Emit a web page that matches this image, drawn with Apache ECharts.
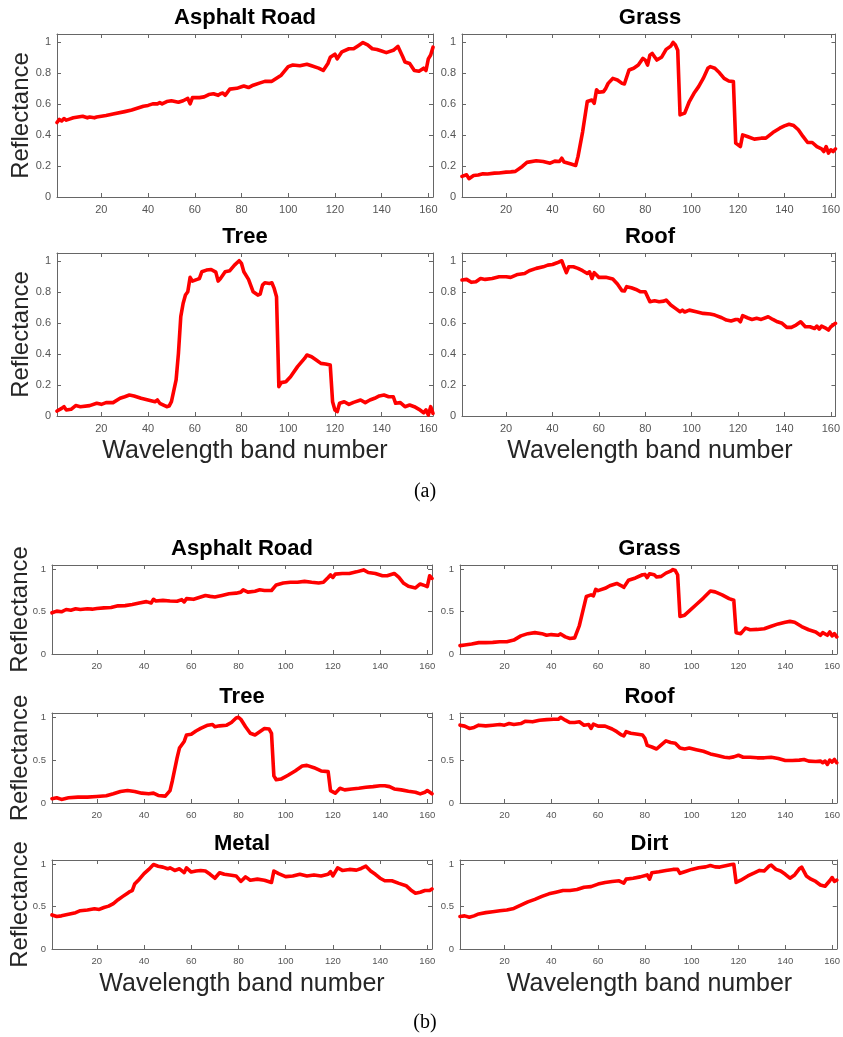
<!DOCTYPE html>
<html>
<head>
<meta charset="utf-8">
<script src="https://cdn.jsdelivr.net/npm/echarts@6/dist/echarts.min.js"></script>
<style>
  html, body { margin: 0; padding: 0; background: #fff; }
  #chart { width: 843px; height: 1037px; }
</style>
</head>
<body>
<div id="chart"></div>
<script>
// band number vs reflectance
const roadA = [[1,.48],[2,.5],[3,.49],[4,.505],[5,.495],[6,.5],[8,.51],[10,.515],[12,.52],[14,.51],[15,.515],[17,.51],[18,.515],[20,.52],[22,.525],[25,.535],[30,.55],[33,.56],[35,.57],[38,.585],[40,.59],[42,.6],[44,.6],[45,.608],[46,.6],[48,.615],[50,.62],[53,.61],[55,.62],[57,.635],[58,.6],[59,.64],[62,.64],[64,.645],[66,.66],[68,.665],[70,.655],[71,.665],[72,.67],[73,.655],[75,.695],[78,.7],[80,.71],[81,.715],[83,.705],[85,.72],[88,.735],[90,.745],[93,.745],[95,.765],[97,.785],[100,.84],[102,.85],[105,.845],[108,.855],[110,.845],[113,.83],[115,.815],[117,.86],[118,.9],[120,.92],[121,.89],[123,.935],[126,.955],[128,.955],[130,.975],[132,.995],[134,.98],[136,.955],[138,.95],[140,.94],[142,.93],[145,.945],[147,.97],[149,.905],[150,.87],[152,.86],[154,.815],[156,.81],[158,.83],[159,.815],[160,.89],[161,.915],[162,.965]];
const grassA = [[1,.133],[3,.143],[4,.118],[6,.139],[8,.142],[10,.15],[12,.148],[15,.154],[17,.155],[20,.16],[22,.162],[24,.165],[27,.197],[29,.223],[33,.233],[36,.229],[39,.218],[41,.231],[43,.229],[44,.25],[45,.225],[48,.212],[50,.203],[51,.26],[53,.42],[55,.615],[57,.625],[58,.604],[59,.69],[60,.675],[62,.679],[63,.7],[64,.732],[66,.764],[68,.754],[70,.732],[71,.728],[73,.818],[75,.829],[77,.85],[79,.893],[80,.882],[81,.85],[82,.914],[83,.925],[85,.882],[87,.9],[89,.951],[91,.972],[92,.996],[93,.979],[94,.946],[95,.529],[97,.54],[99,.615],[101,.668],[103,.711],[105,.764],[107,.829],[108,.84],[110,.829],[112,.8],[114,.764],[116,.747],[118,.743],[119,.347],[121,.325],[122,.4],[124,.39],[127,.373],[130,.379],[132,.379],[135,.415],[138,.443],[140,.458],[142,.469],[144,.46],[146,.433],[148,.39],[150,.351],[152,.351],[154,.325],[156,.31],[157,.293],[158,.325],[159,.283],[160,.304],[161,.293],[162,.31]];
const treeA = [[1,.032],[3,.049],[4,.06],[5,.039],[7,.043],[9,.067],[11,.06],[15,.067],[18,.082],[20,.075],[22,.086],[25,.086],[28,.114],[30,.124],[32,.135],[34,.129],[37,.114],[40,.103],[43,.092],[44,.103],[45,.082],[48,.06],[49,.064],[50,.092],[52,.232],[53,.403],[54,.64],[55,.725],[56,.779],[57,.8],[58,.893],[59,.869],[61,.88],[62,.886],[63,.929],[65,.94],[67,.944],[69,.927],[70,.869],[71,.886],[73,.929],[75,.936],[77,.972],[79,1.0],[80,.983],[81,.929],[83,.88],[85,.8],[87,.779],[88,.785],[89,.843],[90,.858],[92,.854],[93,.858],[94,.822],[95,.768],[96,.189],[97,.215],[99,.221],[101,.253],[104,.318],[107,.371],[108,.393],[110,.382],[112,.361],[114,.339],[116,.335],[118,.328],[119,.092],[120,.039],[121,.028],[122,.082],[124,.092],[126,.075],[128,.088],[131,.103],[133,.086],[135,.103],[137,.114],[139,.129],[141,.135],[143,.124],[145,.124],[146,.082],[148,.086],[150,.06],[152,.071],[154,.06],[156,.043],[158,.021],[159,.039],[160,.006],[161,.06],[162,.017]];
const roofA = [[1,.876],[3,.88],[5,.861],[7,.865],[9,.886],[11,.88],[14,.886],[17,.897],[20,.897],[22,.893],[25,.912],[28,.918],[30,.936],[33,.951],[36,.961],[38,.972],[40,.976],[42,.987],[44,1.0],[45,.961],[46,.923],[47,.961],[49,.961],[51,.951],[53,.936],[55,.918],[56,.929],[57,.886],[58,.923],[59,.908],[60,.893],[63,.893],[66,.882],[68,.85],[70,.807],[71,.805],[72,.833],[74,.826],[76,.815],[78,.8],[80,.8],[82,.736],[84,.742],[86,.736],[88,.74],[89,.747],[91,.715],[93,.693],[95,.672],[96,.682],[97,.67],[99,.682],[102,.672],[105,.661],[108,.657],[110,.65],[113,.633],[115,.618],[117,.612],[119,.622],[120,.622],[121,.607],[122,.646],[124,.633],[126,.622],[128,.629],[130,.622],[133,.639],[135,.622],[137,.607],[139,.597],[141,.571],[143,.571],[145,.586],[147,.607],[149,.575],[151,.575],[153,.564],[154,.579],[155,.56],[156,.579],[158,.564],[159,.554],[160,.575],[162,.597]];

const roadB = [[1,.486],[3,.506],[5,.498],[7,.525],[9,.517],[11,.533],[13,.525],[16,.533],[18,.529],[20,.537],[23,.544],[26,.548],[29,.568],[32,.571],[35,.583],[38,.602],[41,.618],[43,.602],[44,.645],[45,.625],[48,.633],[51,.625],[54,.622],[56,.641],[57,.614],[58,.653],[61,.645],[64,.672],[66,.691],[68,.68],[70,.672],[73,.691],[76,.71],[79,.718],[81,.73],[82,.757],[84,.73],[87,.741],[89,.757],[91,.749],[94,.749],[96,.815],[99,.838],[102,.846],[105,.846],[108,.857],[111,.846],[114,.838],[116,.846],[118,.903],[119,.934],[120,.903],[121,.942],[124,.95],[127,.95],[130,.969],[133,.992],[135,.961],[138,.95],[141,.923],[143,.923],[146,.95],[148,.903],[150,.834],[152,.799],[155,.78],[157,.826],[159,.807],[160,.795],[161,.923],[162,.892]];
const grassB = [[1,.099],[3,.107],[6,.118],[9,.134],[12,.134],[15,.137],[18,.145],[21,.145],[24,.164],[27,.214],[30,.24],[33,.252],[36,.24],[38,.221],[40,.229],[43,.221],[44,.237],[46,.202],[48,.183],[50,.19],[52,.336],[53,.45],[55,.679],[57,.698],[58,.687],[59,.763],[60,.748],[63,.775],[65,.805],[68,.832],[70,.805],[71,.786],[73,.87],[76,.897],[79,.935],[80,.939],[81,.901],[82,.947],[84,.935],[85,.908],[87,.916],[89,.954],[91,.977],[92,.996],[93,.985],[94,.935],[95,.443],[97,.458],[99,.508],[102,.584],[105,.66],[108,.744],[110,.733],[113,.698],[116,.653],[118,.634],[119,.252],[121,.24],[123,.305],[125,.286],[128,.29],[131,.298],[134,.328],[137,.355],[140,.374],[142,.385],[144,.374],[147,.324],[150,.286],[153,.26],[155,.221],[156,.252],[158,.221],[159,.26],[160,.214],[161,.24],[162,.202]];
const treeB = [[1,.05],[3,.061],[5,.042],[8,.061],[12,.069],[16,.069],[20,.076],[24,.084],[27,.107],[30,.134],[33,.145],[36,.134],[39,.115],[42,.107],[44,.115],[46,.088],[49,.08],[51,.145],[52,.26],[54,.527],[55,.641],[57,.718],[58,.794],[60,.802],[62,.84],[64,.87],[67,.908],[69,.916],[70,.889],[72,.9],[75,.908],[77,.939],[79,.992],[80,1.0],[81,.977],[83,.889],[85,.813],[87,.794],[89,.832],[91,.87],[93,.863],[94,.813],[95,.317],[96,.271],[98,.279],[101,.324],[104,.374],[107,.431],[109,.439],[112,.412],[115,.374],[118,.366],[119,.145],[121,.115],[123,.172],[125,.153],[128,.164],[131,.172],[134,.183],[137,.191],[140,.202],[142,.202],[144,.191],[146,.164],[149,.153],[152,.137],[155,.126],[157,.107],[159,.126],[160,.145],[162,.107]];
const roofB = [[1,.908],[3,.897],[5,.87],[7,.882],[9,.908],[12,.9],[15,.908],[18,.916],[20,.908],[22,.927],[24,.916],[27,.927],[29,.954],[32,.947],[35,.966],[38,.973],[41,.977],[43,.977],[44,1.0],[46,.966],[48,.939],[50,.939],[52,.947],[54,.908],[56,.916],[57,.87],[58,.92],[60,.897],[63,.897],[66,.863],[68,.832],[70,.794],[71,.782],[72,.832],[74,.813],[77,.802],[79,.794],[80,.756],[81,.672],[83,.653],[85,.63],[87,.679],[89,.725],[91,.706],[93,.698],[95,.641],[97,.63],[99,.641],[102,.622],[105,.603],[108,.573],[111,.553],[114,.534],[116,.527],[118,.538],[120,.557],[122,.534],[125,.534],[128,.527],[131,.527],[134,.534],[137,.519],[140,.496],[143,.496],[146,.5],[148,.508],[150,.489],[153,.485],[155,.489],[156,.47],[157,.489],[158,.45],[159,.5],[160,.477],[161,.508],[162,.47]];
const metalB = [[1,.402],[3,.383],[5,.391],[8,.41],[11,.429],[13,.452],[16,.46],[19,.475],[21,.467],[23,.49],[25,.506],[27,.536],[29,.582],[31,.621],[33,.659],[34,.678],[35,.69],[36,.766],[38,.824],[40,.889],[42,.939],[44,.996],[46,.977],[48,.966],[50,.946],[51,.958],[53,.927],[55,.946],[57,.9],[58,.958],[60,.908],[62,.92],[64,.927],[66,.92],[68,.881],[70,.835],[72,.9],[74,.881],[77,.87],[79,.862],[81,.797],[83,.851],[85,.812],[88,.824],[91,.812],[94,.785],[95,.92],[97,.889],[100,.854],[103,.862],[106,.881],[109,.862],[112,.874],[115,.862],[118,.881],[119,.912],[120,.862],[122,.958],[124,.927],[127,.939],[130,.931],[132,.95],[134,.977],[136,.92],[138,.881],[140,.835],[142,.805],[145,.805],[148,.774],[151,.747],[153,.697],[155,.659],[157,.67],[159,.69],[161,.69],[162,.709]];
const dirtB = [[1,.383],[3,.391],[5,.375],[7,.391],[9,.414],[12,.429],[15,.44],[18,.452],[21,.46],[24,.479],[27,.517],[30,.556],[33,.586],[36,.621],[39,.651],[42,.67],[45,.69],[48,.69],[51,.701],[54,.728],[57,.736],[60,.766],[63,.785],[66,.797],[69,.805],[71,.778],[72,.824],[75,.835],[78,.851],[81,.874],[82,.824],[83,.9],[86,.912],[89,.927],[92,.939],[94,.939],[95,.893],[97,.912],[100,.939],[103,.958],[106,.969],[108,.985],[110,.969],[112,.966],[115,.985],[117,.996],[118,1.0],[119,.785],[121,.812],[124,.862],[127,.9],[129,.927],[131,.92],[133,.977],[134,.989],[136,.939],[138,.92],[140,.881],[142,.835],[144,.874],[146,.946],[147,.966],[149,.862],[151,.824],[153,.797],[155,.755],[157,.74],[159,.805],[160,.843],[161,.797],[162,.812]];

const xTicks = [20, 40, 60, 80, 100, 120, 140, 160];
const yTicksA = [0, 0.2, 0.4, 0.6, 0.8, 1];
const yTicksB = [0, 0.5, 1];

// plot boxes in px: left, top, right, bottom
const plots = [
  { name: 'Asphalt Road', data: roadA,  box: [57, 34, 433, 197],  yt: yTicksA, ylab: true,  xlab: false },
  { name: 'Grass',        data: grassA, box: [462, 34, 838, 197], yt: yTicksA, ylab: false, xlab: false },
  { name: 'Tree',         data: treeA,  box: [57, 253, 433, 416], yt: yTicksA, ylab: true,  xlab: true },
  { name: 'Roof',         data: roofA,  box: [462, 253, 838, 416],yt: yTicksA, ylab: false, xlab: true },
  { name: 'Asphalt Road', data: roadB,  box: [52, 565, 432, 654], yt: yTicksB, ylab: true,  xlab: false },
  { name: 'Grass',        data: grassB, box: [460, 565, 839, 654],yt: yTicksB, ylab: false, xlab: false },
  { name: 'Tree',         data: treeB,  box: [52, 713, 432, 803], yt: yTicksB, ylab: true,  xlab: false },
  { name: 'Roof',         data: roofB,  box: [460, 713, 839, 803],yt: yTicksB, ylab: false, xlab: false },
  { name: 'Metal',        data: metalB, box: [52, 860, 432, 949], yt: yTicksB, ylab: true,  xlab: true },
  { name: 'Dirt',         data: dirtB,  box: [460, 860, 839, 949],yt: yTicksB, ylab: false, xlab: true }
];

const axisColor = '#666';
const labelFont = 'Liberation Sans, Arial, sans-serif';

function makeAxis(gi, pos, isX, ticks, showLabels, fs) {
  return {
    type: 'value',
    gridIndex: gi,
    position: pos,
    min: isX ? 1 : 0,
    max: isX ? 162 : 1.05,
    axisLine: { show: true, onZero: false, lineStyle: { color: axisColor, width: 1 } },
    axisTick: { show: true, inside: true, length: 4, customValues: ticks, lineStyle: { color: axisColor } },
    axisLabel: { show: showLabels, customValues: ticks, color: '#555', fontSize: fs, fontFamily: labelFont, margin: isX ? 7 : 6 },
    splitLine: { show: false }
  };
}

var grids = [], xAxes = [], yAxes = [], series = [], graphics = [];

plots.forEach(function (p, i) {
  var l = p.box[0], t = p.box[1], r = p.box[2], b = p.box[3];
  var fs = i < 4 ? 11 : 9.5;
  grids.push({ left: l, top: t, width: r - l, height: b - t, containLabel: false });
  xAxes.push(makeAxis(i, 'bottom', true, xTicks, true, fs));
  xAxes.push(makeAxis(i, 'top', true, xTicks, false, fs));
  yAxes.push(makeAxis(i, 'left', false, p.yt, true, fs));
  yAxes.push(makeAxis(i, 'right', false, p.yt, false, fs));
  series.push({
    type: 'line',
    xAxisIndex: 2 * i,
    yAxisIndex: 2 * i,
    data: p.data,
    showSymbol: false,
    symbol: 'none',
    lineStyle: { color: '#ff0000', width: 3.6, cap: 'round', join: 'round' }
  });

  // subplot title
  graphics.push({
    type: 'text', x: (l + r) / 2, y: t - 16,
    style: { text: p.name, font: 'bold 22px Liberation Sans, Arial, sans-serif', fill: '#000', textAlign: 'center', textVerticalAlign: 'middle' }
  });
  if (p.ylab) {
    graphics.push({
      type: 'text', x: i < 4 ? 21 : 20, y: (t + b) / 2, rotation: Math.PI / 2,
      style: { text: 'Reflectance', font: '24px Liberation Sans, Arial, sans-serif', fill: '#262626', textAlign: 'center', textVerticalAlign: 'middle' }
    });
  }
  if (p.xlab) {
    graphics.push({
      type: 'text', x: (l + r) / 2, y: b + 35,
      style: { text: 'Wavelength band number', font: '25px Liberation Sans, Arial, sans-serif', fill: '#262626', textAlign: 'center', textVerticalAlign: 'middle' }
    });
  }
});

graphics.push({
  type: 'text', x: 425, y: 492,
  style: { text: '(a)', font: '20px Liberation Serif, serif', fill: '#000', textAlign: 'center', textVerticalAlign: 'middle' }
});
graphics.push({
  type: 'text', x: 425, y: 1023,
  style: { text: '(b)', font: '20px Liberation Serif, serif', fill: '#000', textAlign: 'center', textVerticalAlign: 'middle' }
});

var chart = echarts.init(document.getElementById('chart'), null, { renderer: 'canvas' });
chart.setOption({
  backgroundColor: '#ffffff',
  animation: false,
  grid: grids,
  xAxis: xAxes,
  yAxis: yAxes,
  series: series,
  graphic: graphics
});
</script>
</body>
</html>
